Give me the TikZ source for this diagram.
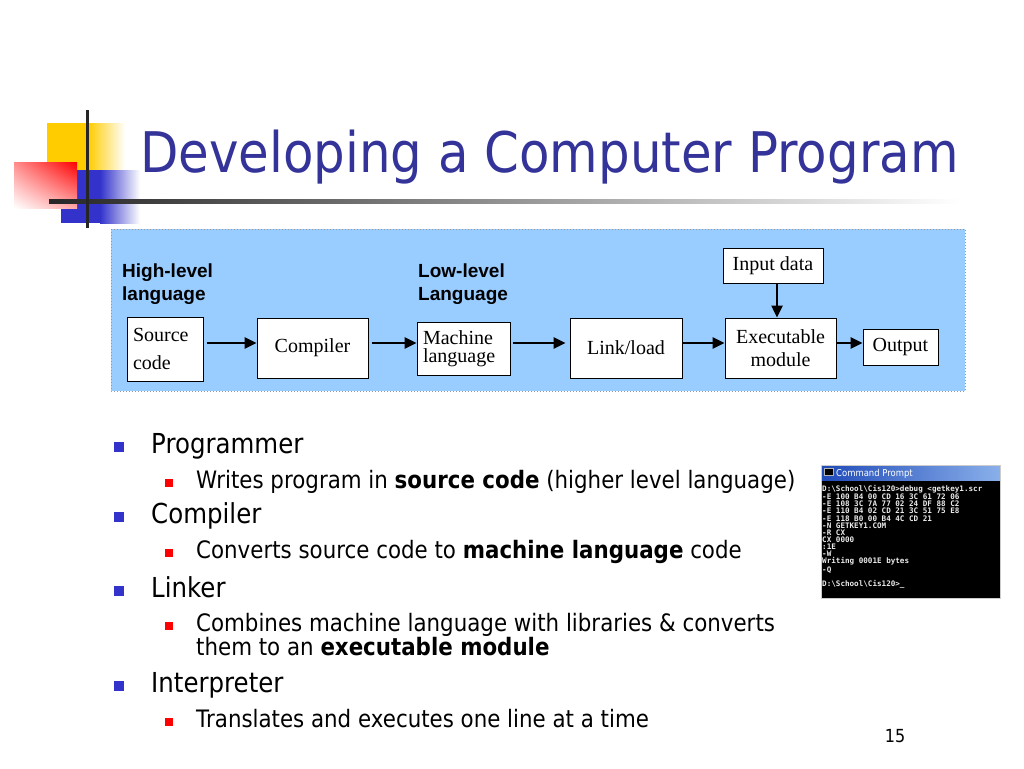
\documentclass[tikz,border=0pt]{standalone}
\usepackage{fontspec}
\setmainfont{Liberation Serif}
\newfontfamily\arialfont{Liberation Sans}
\newfontfamily\tahomafont[FakeStretch=0.89]{DejaVu Sans}
\newfontfamily\consolefont{DejaVu Sans Mono}
\usetikzlibrary{arrows.meta,shadings}

\definecolor{titleblue}{HTML}{333399}
\definecolor{logoblue}{HTML}{3333CC}
\definecolor{logoyellow}{HTML}{FFCC00}
\definecolor{panelblue}{HTML}{99CCFF}
\definecolor{barleft}{HTML}{1F4AB8}
\definecolor{barright}{HTML}{8AB0EA}

\tikzset{
  box/.style={draw, fill=white, line width=1pt, inner sep=0pt, font=\fontsize{20}{22}\selectfont},
  arr/.style={-{Triangle[length=12pt,width=11pt]}, line width=2.5pt},
  lvlone/.style={anchor=base west, inner sep=0pt, font=\tahomafont\fontsize{27.5}{32}\selectfont},
  lvltwo/.style={anchor=base west, inner sep=0pt, font=\tahomafont\fontsize{24}{28}\selectfont},
  bigbullet/.style={fill=logoblue, minimum size=10pt, inner sep=0pt},
  smallbullet/.style={fill=red, minimum size=8pt, inner sep=0pt}
}

\begin{document}
\begin{tikzpicture}[x=1pt, y=-1pt]
    \useasboundingbox[fill=white] (0,0) rectangle (1024,768);

    % logo
    \fill[logoyellow] (47,123) rectangle (88,170);
    \shade[left color=logoyellow, right color=white] (88,123) rectangle (125,170);
    \fill[logoblue] (61,170) rectangle (100,223);
    \shade[left color=logoblue, right color=white] (100,170) rectangle (140,223);
    \shade[upper left=red!45!white, upper right=red, lower left=white, lower right=red!35!white] (14,162) rectangle (77,208);
    \shade[left color=black!85, right color=white] (49,199) rectangle (960,203);
    \fill[black!85] (85.5,110) rectangle (88.5,228);

    \node[anchor=base west, inner sep=0pt, text=titleblue, font=\tahomafont\fontsize{56}{60}\selectfont] (title) at (140,172) {Developing a Computer Program};

    % diagram
    \fill[panelblue] (111,229) rectangle (965,391);
    \draw[gray!80, dotted, line width=1pt] (111,229) rectangle (965,391);
    \node[anchor=north west, inner sep=0pt, align=left, font=\arialfont\bfseries\fontsize{19}{23}\selectfont] (high) at (122,264) {High-level\\language};
    \node[anchor=north west, inner sep=0pt, align=left, font=\arialfont\bfseries\fontsize{19}{23}\selectfont] (low) at (418,264) {Low-level\\Language};

    \node[box, minimum width=76pt, minimum height=64pt, text width=64pt, align=left, font=\fontsize{20}{28}\selectfont] (src) at (165,349) {Source\\code};
    \node[box, minimum width=111pt, minimum height=60pt] (cmp) at (312.5,348) {Compiler};
    \node[box, minimum width=93pt, minimum height=53pt, text width=81pt, align=left, font=\fontsize{20}{18}\selectfont] (mach) at (463.5,348.5) {Machine\\language};
    \node[box, minimum width=112pt, minimum height=60pt] (link) at (626,348) {Link/load};
    \node[box, minimum width=111pt, minimum height=60pt, align=center, font=\fontsize{20}{23}\selectfont] (exe) at (780.5,348) {Executable\\module};
    \node[box, minimum width=100pt, minimum height=35pt] (inp) at (773,265.5) {Input data};
    \node[box, minimum width=75pt, minimum height=36pt] (out) at (900.5,347) {Output};

    \coordinate (row) at (0,343);
    \coordinate (col) at (777,0);
    \draw[arr, shorten <=3pt] (src.east |- row) -- (cmp.west |- row);
    \draw[arr, shorten <=3pt] (cmp.east |- row) -- (mach.west |- row);
    \draw[arr, shorten <=2pt, shorten >=4pt] (mach.east |- row) -- (link.west |- row);
    \draw[arr] (link.east |- row) -- (exe.west |- row);
    \draw[arr] (exe.east |- row) -- (out.west |- row);
    \draw[arr] (inp.south -| col) -- (exe.north -| col);

    % bullets
    \node[bigbullet] (b1) at (119,447) {};
    \node[lvlone] (t1) at (151,453) {Programmer};
    \node[smallbullet] (s1) at (169,483) {};
    \node[lvltwo] (u1) at (196,488) {Writes program in \textbf{source code} (higher level language)};
    \node[bigbullet] (b2) at (119,517) {};
    \node[lvlone] (t2) at (151,523) {Compiler};
    \node[smallbullet] (s2) at (169,553) {};
    \node[lvltwo] (u2) at (196,558) {Converts source code to \textbf{machine language} code};
    \node[bigbullet] (b3) at (119,591) {};
    \node[lvlone] (t3) at (151,597) {Linker};
    \node[smallbullet] (s3) at (169,626) {};
    \node[lvltwo] (u3) at (196,631) {Combines machine language with libraries \& converts};
    \node[lvltwo] (u4) at (196,655) {them to an \textbf{executable module}};
    \node[bigbullet] (b4) at (119,686) {};
    \node[lvlone] (t4) at (151,692) {Interpreter};
    \node[smallbullet] (s4) at (169,722) {};
    \node[lvltwo] (u5) at (196,727) {Translates and executes one line at a time};

    \node[anchor=base, inner sep=0pt, font=\tahomafont\fontsize{18}{20}\selectfont] (page) at (895,742) {15};

    % command prompt
    \fill[black] (821,465) rectangle (1000,598);
    \shade[left color=barleft, right color=barright] (821,465) rectangle (1000,480);
    \draw[gray!40, line width=0.8pt] (821,465) rectangle (1000,598);
    \fill[black] (824,468) rectangle (833,475);
    \draw[gray!60, line width=0.5pt] (824,468) rectangle (833,475);
    \node[anchor=base west, inner sep=0pt, text=white, font=\tahomafont\fontsize{9.5}{10}\selectfont] (cmdtitle) at (836,476.5) {Command Prompt};
    \node[anchor=north west, inner sep=0pt, align=left, text=gray!15, font=\consolefont\bfseries\fontsize{7.6}{7.15}\selectfont] (cmd) at (822,485) {%
      D:\textbackslash School\textbackslash Cis120>debug <getkey1.scr\\
      -E 100 B4 00 CD 16 3C 61 72 06\\
      -E 108 3C 7A 77 02 24 DF 88 C2\\
      -E 110 B4 02 CD 21 3C 51 75 E8\\
      -E 118 B0 00 B4 4C CD 21\\
      -N GETKEY1.COM\\
      -R CX\\
      CX 0000\\
      :1E\\
      -W\\
      Writing 0001E bytes\\
      -Q\\
      \mbox{}\\
      D:\textbackslash School\textbackslash Cis120>\_};
\end{tikzpicture}
\end{document}
